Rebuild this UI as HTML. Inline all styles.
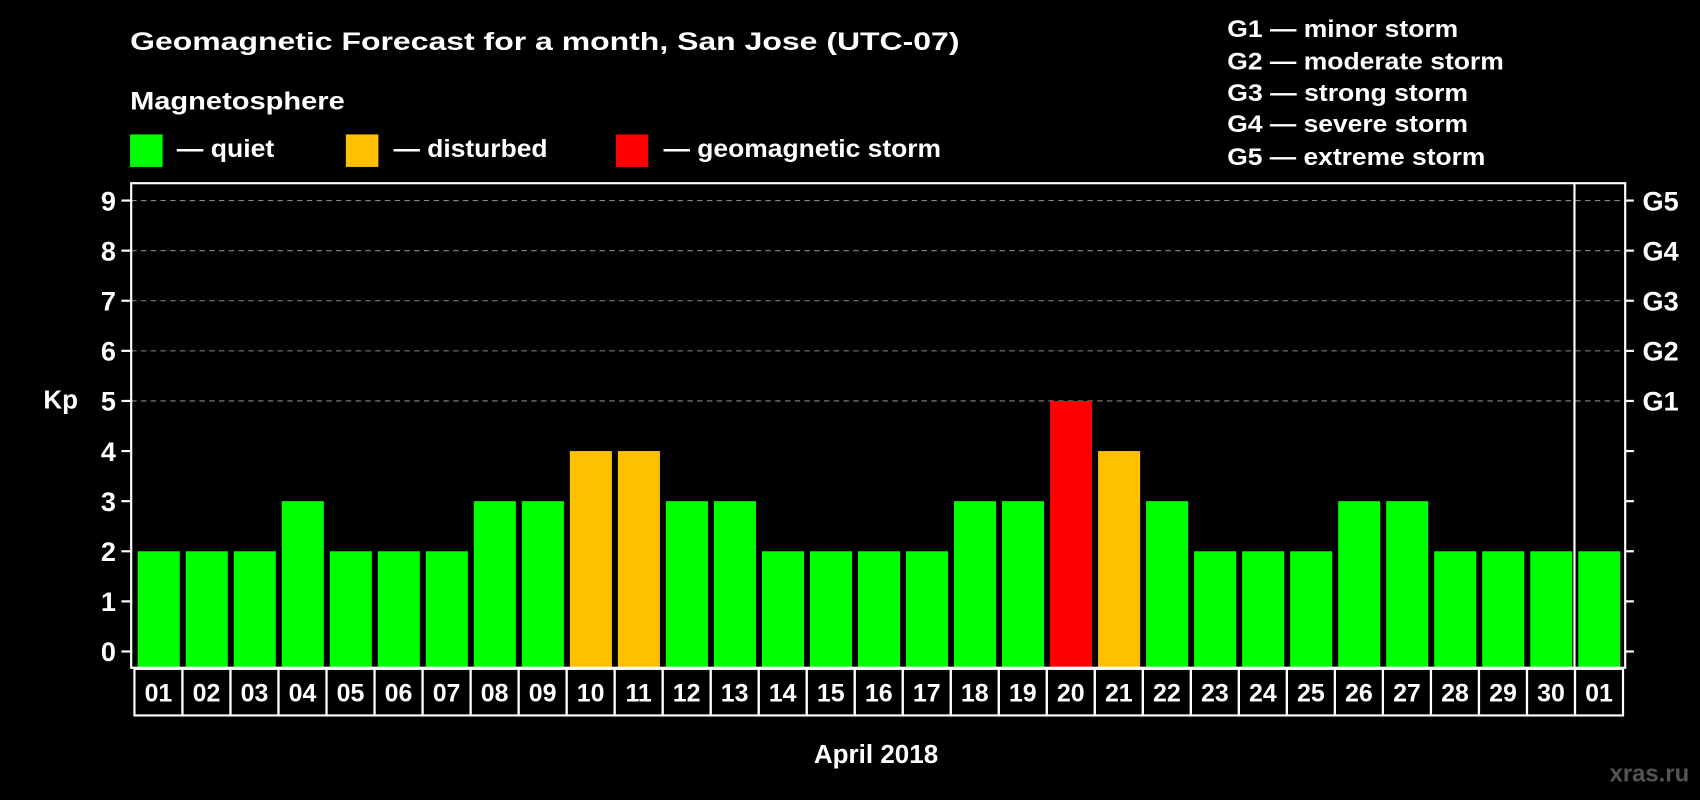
<!DOCTYPE html>
<html><head><meta charset="utf-8"><style>
html,body{margin:0;padding:0;background:#000;}
svg{display:block;font-family:"Liberation Sans",Arial,sans-serif;font-weight:bold;}
</style></head><body>
<svg id="c" width="1700" height="800" viewBox="0 0 1568 738" preserveAspectRatio="none">
<rect width="1568" height="738" fill="#000"/>
<text x="120" y="46" fill="#fff" font-size="23" textLength="765" lengthAdjust="spacingAndGlyphs">Geomagnetic Forecast for a month, San Jose (UTC-07)</text>
<text x="120" y="101" fill="#fff" font-size="23" textLength="198" lengthAdjust="spacingAndGlyphs">Magnetosphere</text>
<g><rect x="120" y="124" width="30" height="30" fill="#00ff00"/><text x="163" y="145" fill="#fff" font-size="23" textLength="90" lengthAdjust="spacingAndGlyphs">— quiet</text></g>
<g><rect x="319" y="124" width="30" height="30" fill="#ffc000"/><text x="363" y="145" fill="#fff" font-size="23" textLength="142" lengthAdjust="spacingAndGlyphs">— disturbed</text></g>
<g><rect x="568" y="124" width="30" height="30" fill="#ff0000"/><text x="612" y="145" fill="#fff" font-size="23" textLength="256" lengthAdjust="spacingAndGlyphs">— geomagnetic storm</text></g>
<g fill="#fff" font-size="22">
<text x="1132" y="34" textLength="213" lengthAdjust="spacingAndGlyphs">G1 — minor storm</text>
<text x="1132" y="64" textLength="255" lengthAdjust="spacingAndGlyphs">G2 — moderate storm</text>
<text x="1132" y="93" textLength="222" lengthAdjust="spacingAndGlyphs">G3 — strong storm</text>
<text x="1132" y="122" textLength="222" lengthAdjust="spacingAndGlyphs">G4 — severe storm</text>
<text x="1132" y="152" textLength="238" lengthAdjust="spacingAndGlyphs">G5 — extreme storm</text>
</g>
<text x="40" y="377" fill="#fff" font-size="24">Kp</text>
<text x="808" y="704" fill="#fff" font-size="24" text-anchor="middle">April 2018</text>
<text x="1558" y="721" fill="#555" font-size="22" text-anchor="end">xras.ru</text>
<g id="plot"></g>
</svg>
<script>
const days = ["01","02","03","04","05","06","07","08","09","10","11","12","13","14","15","16","17","18","19","20","21","22","23","24","25","26","27","28","29","30","01"];
const kp = [2,2,2,3,2,2,2,3,3,4,4,3,3,2,2,2,2,3,3,5,4,3,2,2,2,3,3,2,2,2,2];
const yTicks = [0,1,2,3,4,5,6,7,8,9];
const gLabels = ["G1","G2","G3","G4","G5"];
const gLevels = [5,6,7,8,9];

const NS="http://www.w3.org/2000/svg";
const g=document.getElementById('plot');
const L=121,R=1499,T=169,B=616,Y0=601,Y9=185;
const y=v=>Y0-(Y0-Y9)*v/9;
const x0=124,step=(1497-124)/31;
const x=i=>x0+i*step;
function mk(t,a){const e=document.createElementNS(NS,t);for(const k in a)e.setAttribute(k,a[k]);g.appendChild(e);return e;}
yTicks.forEach(v=>{
  if(v>=5){const l=mk('line',{x1:L,x2:R,y1:y(v),y2:y(v),stroke:'#888','stroke-dasharray':'5,4','stroke-width':1});
  
  }
  const t1=mk('line',{x1:112,x2:L,y1:y(v),y2:y(v),stroke:'#fff','stroke-width':2});
  
  
  const t2=mk('line',{x1:R,x2:1507,y1:y(v),y2:y(v),stroke:'#fff','stroke-width':2});
  
  
  const tx=mk('text',{x:107,y:y(v)+9,fill:'#fff','font-size':25,'text-anchor':'end'});
  tx.textContent=v;
  
  
});
gLabels.forEach((s,i)=>{
  const tx=mk('text',{x:1515,y:y(gLevels[i])+9,fill:'#fff','font-size':25});
  tx.textContent=s;
  
  
});
kp.forEach((v,i)=>{
  const c=v>=5?'#ff0000':(v>=4?'#ffc000':'#00ff00');
  const r=mk('rect',{x:x(i)+3,y:y(v),width:step-5.5,height:B-y(v),fill:c});
  
  
});
const f=mk('rect',{x:L,y:T,width:R-L,height:B-T,fill:'none',stroke:'#fff','stroke-width':2});


const sep=mk('line',{x1:x(30)-0.5,x2:x(30)-0.5,y1:T,y2:B,stroke:'#fff','stroke-width':2});


days.forEach((d,i)=>{
  const r=mk('rect',{x:x(i),y:617,width:step,height:43,fill:'none',stroke:'#fff','stroke-width':2});
  
  
  const t=mk('text',{x:x(i)+step/2,y:647,fill:'#fff','font-size':23,'text-anchor':'middle'});
  t.textContent=d;
  
  
});
</script>
</body></html>
